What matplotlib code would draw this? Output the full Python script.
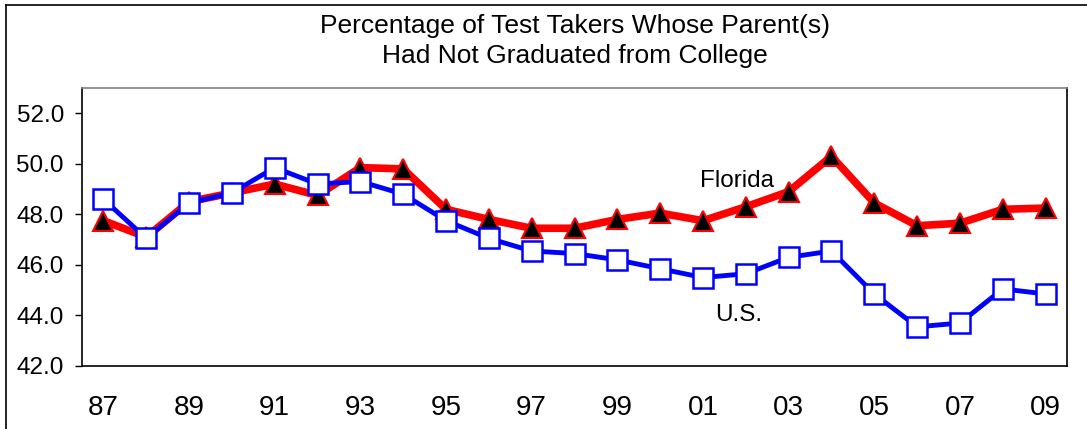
import matplotlib.pyplot as plt
from matplotlib.lines import Line2D

plt.rcParams['font.family'] = ['Liberation Sans', 'DejaVu Sans']

# ── Datos ────────────────────────────────────────────────────────────────────
years = ['87', '88', '89', '90', '91', '92', '93', '94', '95', '96', '97', '98',
         '99', '00', '01', '02', '03', '04', '05', '06', '07', '08', '09']
florida = [47.75, 47.1, 48.5, 48.85, 49.2, 48.75, 49.85, 49.8, 48.2, 47.8, 47.45, 47.45,
           47.8, 48.05, 47.75, 48.3, 48.9, 50.3, 48.45, 47.55, 47.65, 48.2, 48.25]
us = [48.6, 47.05, 48.45, 48.85, 49.85, 49.2, 49.3, 48.8, 47.75, 47.05, 46.55, 46.45,
      46.2, 45.85, 45.5, 45.65, 46.3, 46.55, 44.85, 43.55, 43.7, 45.05, 44.85]
y_ticks = [42, 44, 46, 48, 50, 52]

x = list(range(len(years)))

fig = plt.figure(figsize=(10.87, 4.29), dpi=100, facecolor='white')
ax = fig.add_axes([82 / 1087, 1 - 366 / 429, (1067 - 82) / 1087, (366 - 88) / 429])

# marco exterior
fig.add_artist(Line2D([6 / 1087, 1], [1 - 5 / 429, 1 - 5 / 429], color='black', lw=1.2,
                      transform=fig.transFigure))
fig.add_artist(Line2D([6 / 1087, 6 / 1087], [0, 1 - 5 / 429], color='black', lw=1.2,
                      transform=fig.transFigure))

ax.plot(x, florida, color='#ff0000', lw=5.5, marker='^', ms=14,
        mfc='black', mec='#ff0000', mew=1.5, zorder=3)
ax.plot(x, us, color='#0000ff', lw=3.5, marker='s', ms=14,
        mfc='white', mec='#0000ff', mew=1.8, zorder=4)

ax.text(14.79, 49.31, 'Florida', fontsize=17.5, ha='center', va='center')
ax.text(14.83, 44.0, 'U.S.', fontsize=17.5, ha='center', va='center')

ax.set_xlim(-0.5, 22.5)
ax.set_ylim(42, 53)
ax.set_xticks(x[::2])
ax.set_xticklabels(years[::2], fontsize=20)
ax.set_yticks(y_ticks)
ax.set_yticklabels([f'{v:.1f}' for v in y_ticks], fontsize=17.5)
ax.tick_params(axis='x', length=0, pad=21)
ax.tick_params(axis='y', length=5, pad=8, width=1)
for s in ax.spines.values():
    s.set_linewidth(1.2)
ax.spines['top'].set_color('#808080')

fig.text((82 + 1067) / 2 / 1087, 1 - 41 / 429,
         'Percentage of Test Takers Whose Parent(s)\nHad Not Graduated from College',
         ha='center', va='center', fontsize=19, linespacing=1.35)

fig.savefig('out.png', dpi=100)
